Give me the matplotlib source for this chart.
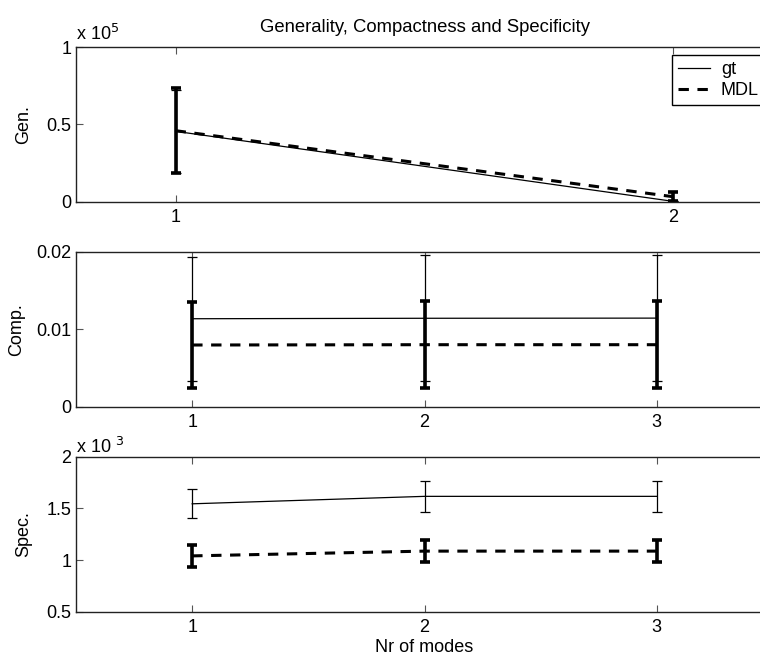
import matplotlib.pyplot as plt
from matplotlib.ticker import FixedLocator, FixedFormatter

plt.rcParams['font.family'] = ['Liberation Sans', 'DejaVu Sans']
plt.rcParams['font.size'] = 13

# --- data ---
modes_gen = [1, 2]
gen_gt = [45500, 200]
gen_gt_err = [27000, 0]
gen_mdl = [45900, 3200]
gen_mdl_err = [27450, 2900]

modes = [1, 2, 3]
comp_gt = [0.01135, 0.01141, 0.01143]
comp_gt_err = [0.0080, 0.0081, 0.0081]
comp_mdl = [0.00796, 0.00800, 0.00800]
comp_mdl_err = [0.00559, 0.00560, 0.00560]

spec_gt = [1.545e-3, 1.617e-3, 1.617e-3]
spec_gt_err = [0.140e-3, 0.148e-3, 0.148e-3]
spec_mdl = [1.042e-3, 1.088e-3, 1.088e-3]
spec_mdl_err = [0.105e-3, 0.107e-3, 0.107e-3]

W, H = 760, 657
fig = plt.figure(figsize=(W / 100, H / 100), dpi=100)

# axes run a bit past the right edge of the picture, like the original
left = 76 / W
width = (773 - 76) / W
ax1 = fig.add_axes([left, (H - 201.7) / H, width, 154.7 / H])
ax2 = fig.add_axes([left, (H - 406.7) / H, width, 155 / H])
ax3 = fig.add_axes([left, (H - 612) / H, width, 155.3 / H])


def draw(ax, x, gt, gt_err, mdl, mdl_err):
    l1, = ax.plot(x, gt, '-', color='k', lw=0.9, label='gt')
    ax.errorbar(x, gt, yerr=gt_err, fmt='none', ecolor='k', elinewidth=0.9,
                capsize=3.8, capthick=0.9)
    l2, = ax.plot(x, mdl, '--', color='k', lw=2.2, dashes=(3.4, 2.8), label='MDL')
    ax.errorbar(x, mdl, yerr=mdl_err, fmt='none', ecolor='k', elinewidth=2.6,
                capsize=3.4, capthick=2.6)
    return l1, l2


def style(ax, yticks, ylabels, xticks):
    ax.set_xticks(xticks)
    ax.set_xticklabels([str(t) for t in xticks])
    ax.yaxis.set_major_locator(FixedLocator(yticks))
    ax.yaxis.set_major_formatter(FixedFormatter(ylabels))
    ax.tick_params(direction='in', length=5, width=0.8, top=True, right=True,
                   labelsize=13, colors='#555555', labelcolor='k')
    ax.tick_params(axis='x', pad=5)
    for s in ax.spines.values():
        s.set_linewidth(1.0)
        s.set_color('#222222')


h1, h2 = draw(ax1, modes_gen, gen_gt, gen_gt_err, gen_mdl, gen_mdl_err)
ax1.set_xlim(0.8, 2.2)
ax1.set_ylim(0, 1e5)
style(ax1, [0, 0.5e5, 1e5], ['0', '0.5', '1'], [1, 2])
ax1.set_ylabel('Gen.', labelpad=10)
ax1.set_title('Generality, Compactness and Specificity', fontsize=13.3, pad=11)
ax1.text(0.0, 1.02, r'x 10$^{5}$', transform=ax1.transAxes, fontsize=13,
         ha='left', va='bottom')
leg = ax1.legend(handles=[h1, h2], loc='upper left',
                 bbox_to_anchor=((672 - 76) / 697, (201.7 - 55) / 154.7),
                 fancybox=False, edgecolor='k', framealpha=1, fontsize=13,
                 handlelength=1.75, handletextpad=0.6, borderaxespad=0,
                 labelspacing=0.2, borderpad=0.35)
leg.get_frame().set_linewidth(1.0)

draw(ax2, modes, comp_gt, comp_gt_err, comp_mdl, comp_mdl_err)
ax2.set_xlim(0.5, 3.5)
ax2.set_ylim(0, 0.02)
style(ax2, [0, 0.01, 0.02], ['0', '0.01', '0.02'], [1, 2, 3])
ax2.set_ylabel('Comp.', labelpad=8)

draw(ax3, modes, spec_gt, spec_gt_err, spec_mdl, spec_mdl_err)
ax3.set_xlim(0.5, 3.5)
ax3.set_ylim(0.5e-3, 2e-3)
style(ax3, [0.5e-3, 1e-3, 1.5e-3, 2e-3], ['0.5', '1', '1.5', '2'], [1, 2, 3])
ax3.set_ylabel('Spec.', labelpad=10)
ax3.set_xlabel('Nr of modes', labelpad=2)
ax3.text(0.0, 1.0, r'x 10 $^{3}$', transform=ax3.transAxes, fontsize=13,
         ha='left', va='bottom')

fig.savefig('out.png', dpi=100)
